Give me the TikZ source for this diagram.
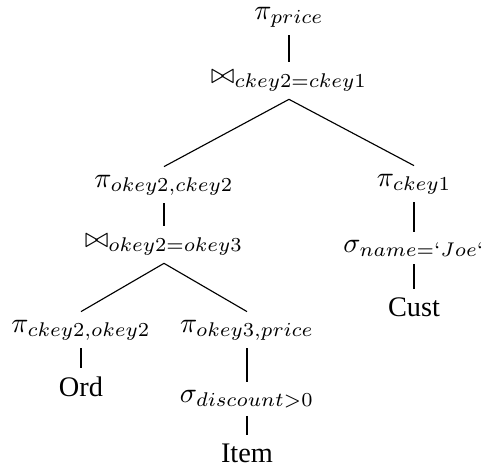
\documentclass[tikz,border=0pt]{standalone}
\usepackage[no-math]{fontspec}
\setmainfont{Liberation Serif}
\begin{document}
\begin{tikzpicture}[x=0.353pt,y=-0.353pt,
  op/.style={anchor=base,inner ysep=2.7pt},
  edge/.style={draw=black,line width=0.4pt}]
\useasboundingbox (0,0) rectangle (482,468);
% operators of the query plan
\node[op] (root) at (289,19)  {$\pi_{price}$};
\node[op] (j1)   at (289,83)  {$\bowtie_{ckey2=ckey1}$};
\node[op] (p2)   at (164,187) {$\pi_{okey2,ckey2}$};
\node[op] (j2)   at (164,247) {$\bowtie_{okey2=okey3}$};
\node[op] (pl)   at (81,332)  {$\pi_{ckey2,okey2}$};
\node[op] (ord)  at (81,396)  {Ord};
\node[op] (pr)   at (247,332) {$\pi_{okey3,price}$};
\node[op] (sd)   at (247,402) {$\sigma_{discount>0}$};
\node[op] (item) at (247,462) {Item};
\node[op] (pc)   at (414,186) {$\pi_{ckey1}$};
\node[op] (sn)   at (414,252) {$\sigma_{name=`Joe`}$};
\node[op] (cust) at (414,316) {Cust};
% edges
\draw[edge] (root.south) -- (j1.north);
\draw[edge] (j1.south) -- (p2.north);
\draw[edge] (j1.south) -- (pc.north);
\draw[edge] (p2.south) -- (j2.north);
\draw[edge] (j2.south) -- (pl.north);
\draw[edge] (j2.south) -- (pr.north);
\draw[edge] (pl.south) -- (ord.north);
\draw[edge] (pr.south) -- (sd.north);
\draw[edge] (sd.south) -- (item.north);
\draw[edge] (pc.south) -- (sn.north);
\draw[edge] (sn.south) -- (cust.north);
\end{tikzpicture}
\end{document}
